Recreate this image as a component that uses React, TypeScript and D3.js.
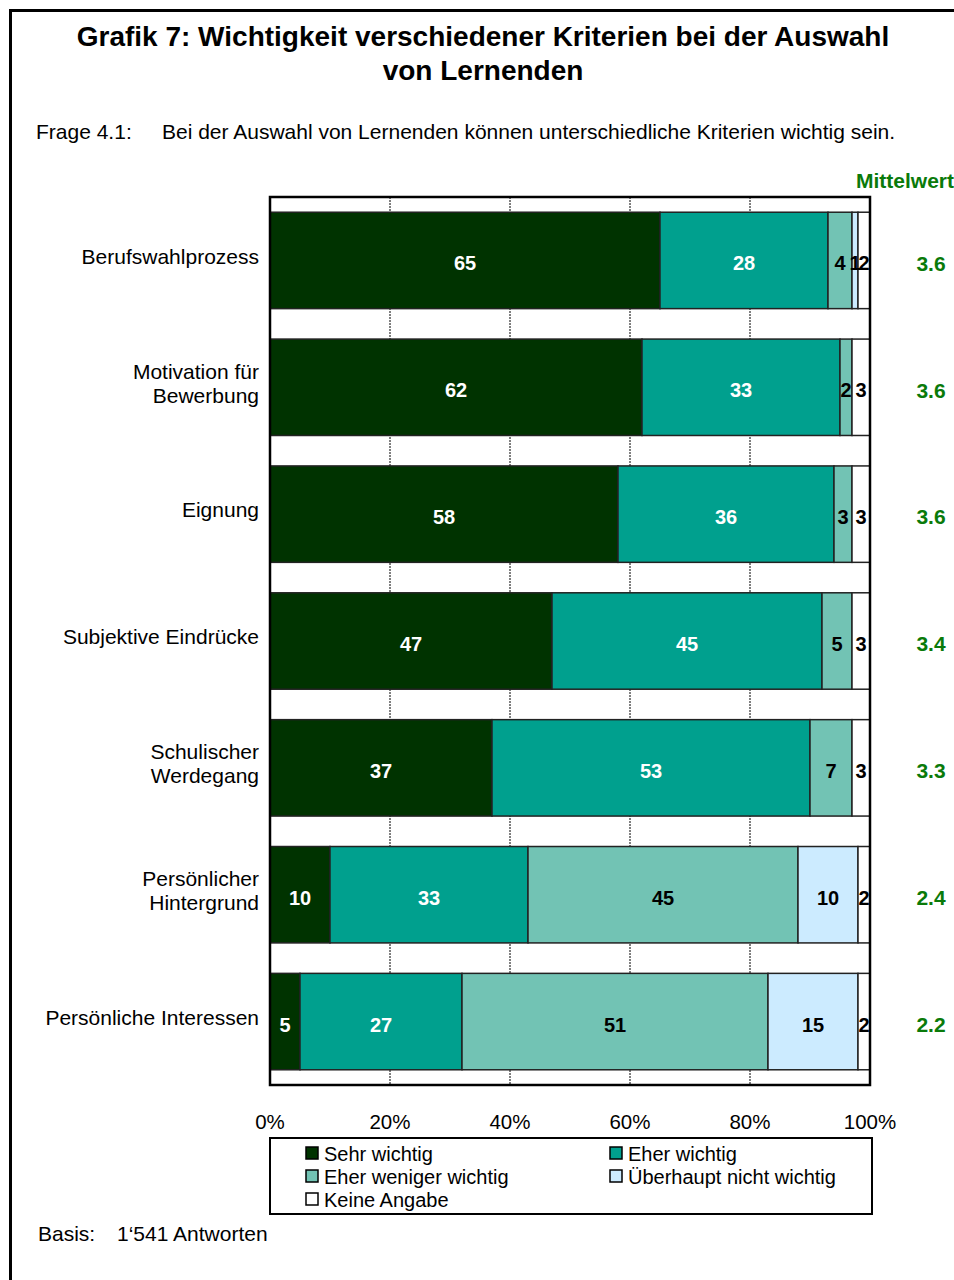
import React from "react";
import * as d3 from "d3";

const categories = [
  ["Berufswahlprozess"],
  ["Motivation für", "Bewerbung"],
  ["Eignung"],
  ["Subjektive Eindrücke"],
  ["Schulischer", "Werdegang"],
  ["Persönlicher", "Hintergrund"],
  ["Persönliche Interessen"],
];
const seriesNames = [
  "Sehr wichtig",
  "Eher wichtig",
  "Eher weniger wichtig",
  "Überhaupt nicht wichtig",
  "Keine Angabe",
];
const sehrWichtig = [65, 62, 58, 47, 37, 10, 5];
const eherWichtig = [28, 33, 36, 45, 53, 33, 27];
const eherWeniger = [4, 2, 3, 5, 7, 45, 51];
const ueberhauptNicht = [1, 0, 0, 0, 0, 10, 15];
const keineAngabe = [2, 3, 3, 3, 3, 2, 2];
const mittelwert = ["3.6", "3.6", "3.6", "3.4", "3.3", "2.4", "2.2"];
const xTicks = [0, 20, 40, 60, 80, 100];

const colors = ["#003300", "#00A08E", "#72C3B4", "#CCEBFF", "#FFFFFF"];
const labelColors = ["#FFFFFF", "#FFFFFF", "#000000", "#000000", "#000000"];
const FONT = "'Liberation Sans', Arial, sans-serif";

export default function App() {
  const W = 954, H = 1280;
  const left = 270, right = 870, top = 197, bottom = 1085;
  const x = d3.scaleLinear().domain([0, 100]).range([left, right]);
  const y = d3.scaleBand<number>().domain(d3.range(categories.length)).range([top, bottom]).paddingInner(0.24).paddingOuter(0.12);
  const series = [sehrWichtig, eherWichtig, eherWeniger, ueberhauptNicht, keineAngabe];
  const rows = categories.map((_, i) => {
    let acc = 0;
    return series.map((s, k) => {
      const v = s[i];
      const seg = { k, v, x0: acc, x1: acc + v };
      acc += v;
      return seg;
    });
  });
  const legendItems = [
    { k: 0, x: 306, y: 1154 },
    { k: 1, x: 610, y: 1154 },
    { k: 2, x: 306, y: 1177 },
    { k: 3, x: 610, y: 1177 },
    { k: 4, x: 306, y: 1200 },
  ];
  return (
    <svg width={W} height={H} style={{ display: "block", position: "absolute", left: 0, top: 0 }} fontFamily={FONT}>
      <rect x={0} y={0} width={W} height={H} fill="#fff" />
      <path d={`M10.5,${H + 5} V10.5 H${W + 5}`} fill="none" stroke="#000" strokeWidth={3} />
      <text x={483} y={46} textAnchor="middle" fontWeight="bold" fontSize={28}>Grafik 7: Wichtigkeit verschiedener Kriterien bei der Auswahl</text>
      <text x={483} y={80} textAnchor="middle" fontWeight="bold" fontSize={28}>von Lernenden</text>
      <text x={36} y={139} fontSize={21}>Frage 4.1:</text>
      <text x={162} y={139} fontSize={21}>Bei der Auswahl von Lernenden können unterschiedliche Kriterien wichtig sein.</text>
      <text x={954} y={188} textAnchor="end" fontWeight="bold" fontSize={21} fill="#0A7A0A">Mittelwert</text>

      {xTicks.slice(1, -1).map((t) => (
        <line key={t} x1={x(t)} x2={x(t)} y1={top} y2={bottom} stroke="#000" strokeWidth={1} strokeDasharray="2,1" />
      ))}
      {rows.map((row, i) => (
        <g key={i}>
          {row.filter((s) => s.v > 0).map((s) => (
            <rect key={s.k} x={x(s.x0)} y={y(i)!} width={x(s.x1) - x(s.x0)} height={y.bandwidth()} fill={colors[s.k]} stroke="#222" strokeWidth={1.5} />
          ))}
          {row.filter((s) => s.v > 0).map((s) => (
            <text key={"t" + s.k} x={(x(s.x0) + x(s.x1)) / 2} y={y(i)! + y.bandwidth() / 2 + 3} dy="0.35em" textAnchor="middle" fontWeight="bold" fontSize={20} fill={labelColors[s.k]}>{s.v}</text>
          ))}
          {categories[i].map((line, j) => (
            <text key={"c" + j} x={259} y={y(i)! + y.bandwidth() / 2 + (j - (categories[i].length - 1) / 2) * 24 - 4} dy="0.35em" textAnchor="end" fontSize={21}>{line}</text>
          ))}
          <text x={931} y={y(i)! + y.bandwidth() / 2 + 3} dy="0.35em" textAnchor="middle" fontWeight="bold" fontSize={21} fill="#0A7A0A">{mittelwert[i]}</text>
        </g>
      ))}
      <rect x={left} y={top} width={right - left} height={bottom - top} fill="none" stroke="#000" strokeWidth={2.5} />
      {xTicks.map((t) => (
        <text key={t} x={x(t)} y={1129} textAnchor="middle" fontSize={20.5}>{t}%</text>
      ))}

      <rect x={270} y={1138} width={602} height={76} fill="#fff" stroke="#000" strokeWidth={2} />
      {legendItems.map((it) => (
        <g key={it.k}>
          <rect x={it.x} y={it.y - 7} width={12} height={12} fill={colors[it.k]} stroke="#000" strokeWidth={1.5} />
          <text x={it.x + 18} y={it.y} dy="0.35em" fontSize={20}>{seriesNames[it.k]}</text>
        </g>
      ))}
      <text x={38} y={1241} fontSize={21}>Basis:</text>
      <text x={117} y={1241} fontSize={21}>1‘541 Antworten</text>
    </svg>
  );
}
